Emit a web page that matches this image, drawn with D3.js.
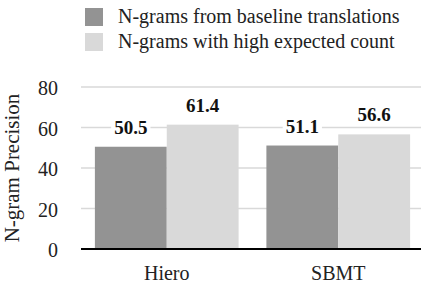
<!DOCTYPE html>
<html lang="en">
<head>
    <meta charset="UTF-8">
    <title>N-gram Precision</title>
    <script src="https://d3js.org/d3.v7.min.js"></script>
    <style>
        body { margin: 0; background: #fff; }
        svg { display: block; }
        svg text { font-family: "Liberation Serif", "Times New Roman", Times, "DejaVu Serif", serif; }
    </style>
</head>
<body>
    <svg id="chart" width="421" height="284"></svg>
    <script>
        // chart data
        const systems = ["Hiero", "SBMT"];
        const seriesNames = ["N-grams from baseline translations", "N-grams with high expected count"];
        const baseline = [50.5, 51.1];
        const highExpected = [61.4, 56.6];
        const yTicks = [0, 20, 40, 60, 80];

        const colors = ["#939393", "#d9d9d9"];
        const serif = "'Liberation Serif', 'Times New Roman', Times, serif";

        const svg = d3.select("#chart");
        const plotLeft = 81, plotRight = 424, plotTop = 87, plotBottom = 249;

        const rows = systems.map((s, i) => ({ system: s, values: [baseline[i], highExpected[i]] }));

        const x0 = d3.scaleBand()
            .domain(systems)
            .range([plotLeft, plotRight])
            .paddingInner(0.162)
            .paddingOuter(0.081);

        const x1 = d3.scaleBand()
            .domain([0, 1])
            .range([0, x0.bandwidth()]);

        const y = d3.scaleLinear()
            .domain([0, 80])
            .range([plotBottom, plotTop]);

        // gridlines
        svg.append("g")
            .selectAll("line")
            .data(yTicks.filter(t => t > 0))
            .enter()
            .append("line")
            .attr("x1", plotLeft)
            .attr("x2", 421)
            .attr("y1", d => y(d))
            .attr("y2", d => y(d))
            .attr("stroke", "#d9d9d9")
            .attr("stroke-width", 1.5);

        // y tick labels
        svg.append("g")
            .selectAll("text")
            .data(yTicks)
            .enter()
            .append("text")
            .attr("x", 58)
            .attr("y", d => y(d) + 1)
            .attr("dy", "0.35em")
            .attr("text-anchor", "end")
            .attr("font-family", serif)
            .attr("font-size", 20)
            .attr("fill", "#222")
            .text(d => d);

        // y title
        svg.append("text")
            .attr("transform", `translate(18.5,168) rotate(-90)`)
            .attr("text-anchor", "middle")
            .attr("font-family", serif)
            .attr("font-size", 21)
            .attr("fill", "#222")
            .text("N-gram Precision");

        // bars
        const group = svg.append("g")
            .selectAll("g")
            .data(rows)
            .enter()
            .append("g")
            .attr("transform", d => `translate(${x0(d.system)},0)`);

        group.selectAll("rect")
            .data(d => d.values.map((v, k) => ({ k, v })))
            .enter()
            .append("rect")
            .attr("x", d => x1(d.k))
            .attr("width", x1.bandwidth())
            .attr("y", d => y(d.v))
            .attr("height", d => plotBottom - y(d.v))
            .attr("fill", d => colors[d.k]);

        // value labels with white background
        const labels = group.selectAll("g.lbl")
            .data(d => d.values.map((v, k) => ({ k, v })))
            .enter()
            .append("g")
            .attr("class", "lbl");

        labels.append("text")
            .attr("x", d => x1(d.k) + x1.bandwidth() / 2)
            .attr("y", d => y(d.v) - 13)
            .attr("text-anchor", "middle")
            .attr("font-family", serif)
            .attr("font-size", 19)
            .attr("font-weight", "bold")
            .attr("fill", "#111")
            .text(d => d.v.toFixed(1));

        labels.each(function () {
            const g = d3.select(this);
            const b = g.select("text").node().getBBox();
            g.insert("rect", "text")
                .attr("x", b.x - 3)
                .attr("y", b.y + 2)
                .attr("width", b.width + 6)
                .attr("height", b.height - 2)
                .attr("fill", "#fff");
        });

        // baseline
        svg.append("line")
            .attr("x1", plotLeft)
            .attr("x2", 421)
            .attr("y1", plotBottom)
            .attr("y2", plotBottom)
            .attr("stroke", "#000")
            .attr("stroke-width", 2);

        // x labels
        svg.append("g")
            .selectAll("text")
            .data(systems)
            .enter()
            .append("text")
            .attr("x", d => x0(d) + x0.bandwidth() / 2)
            .attr("y", 280)
            .attr("text-anchor", "middle")
            .attr("font-family", serif)
            .attr("font-size", 20)
            .attr("fill", "#222")
            .text(d => d);

        // legend
        const legend = svg.append("g")
            .selectAll("g")
            .data(seriesNames)
            .enter()
            .append("g")
            .attr("transform", (d, i) => `translate(85,${8 + i * 25})`);

        legend.append("rect")
            .attr("width", 18)
            .attr("height", 18)
            .attr("fill", (d, i) => colors[i]);

        legend.append("text")
            .attr("x", 33)
            .attr("y", 15)
            .attr("font-family", serif)
            .attr("font-size", 20)
            .attr("fill", "#222")
            .text(d => d);
    </script>
</body>
</html>
